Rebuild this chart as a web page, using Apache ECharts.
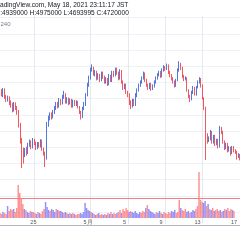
<!DOCTYPE html>
<html><head><meta charset="utf-8">
<script src="https://cdn.jsdelivr.net/npm/echarts@6/dist/echarts.min.js"></script>
<style>html,body{margin:0;padding:0;background:#fff;overflow:hidden}#c{width:240px;height:240px}</style>
</head><body><div id="c"></div>
<script>
// 4h candles, BTC/JPY (thousand JPY)
const opens = [6080,6045,6007,6070,5982,5945,5970, 5907,5882,5820,5895,5845, 5795,5632,5445, 5320,5257,5320,
 5295,5382,5420,5357,5445,5407,5345,5395,5370,5432, 5332,5282, 5220, 5645,5720,5757,5732,
 5795,5845,5895,5870,5945,5907, 5982,6007,5920, 5957,5907,5945,5870,5932,5895,5920, 5857,5795, 5745,5845,
 5895,6007,6132, 6220,6320,6345, 6270,6295,6220,6257,6195,6282,6232,6170,6207,6145,6245,
 6195,6295,6257,6332,6282,6220, 6307,6170,6095,6132,6045, 6007,5920,5870,5945,
 5895,6007,6070,6132,6170,6220, 6270,6195,6132,6095,6145,6082, 6120,6170,6220,6257,6295,6245,6320,6357,6332,
 6370,6295,6257,6220,6170,6132, 6195,6320,6395, 6345,6245,6207, 6220,6070,5995, 5957,6045,6095,6020,
 6107,6170,6207, 6132,5970, 5845,5507, 5445,5470,5545,5420, 5495,5395,5445, 5370,5595,
 5545,5420,5345,5395, 5320,5345,5282,5357, 5307,5295,5232,5257];
const closes = [6045,6007,6070,5982,5945,5970,5907, 5882,5820,5895,5845,5795, 5632,5445,5320, 5257,5320,5295,
 5382,5420,5357,5445,5407,5345,5395,5370,5432,5332, 5282,5220, 5645, 5720,5757,5732,5795,
 5845,5895,5870,5945,5907,5982, 6007,5920,5957, 5907,5945,5870,5932,5895,5920,5857, 5795,5745, 5845,5895,
 6007,6132,6220, 6320,6345,6270, 6295,6220,6257,6195,6282,6232,6170,6207,6145,6245,6195,
 6295,6257,6332,6282,6220,6307, 6170,6095,6132,6045,6007, 5920,5870,5945,5895,
 6007,6070,6132,6170,6220,6270, 6195,6132,6095,6145,6082,6120, 6170,6220,6257,6295,6245,6320,6357,6332,6370,
 6295,6257,6220,6170,6132,6195, 6320,6395,6345, 6245,6207,6220, 6070,5995,5957, 6045,6095,6020,6107,
 6170,6207,6132, 5970,5845, 5507,5445, 5470,5545,5420,5495, 5395,5445,5370, 5595,5545,
 5420,5345,5395,5320, 5345,5282,5357,5307, 5295,5232,5257,5220];
const highs = [6110,6080,6095,6090,6010,6000,5990, 5940,5910,5920,5915,5870, 5820,5660,5470, 5350,5345,5360,
 5410,5450,5440,5470,5460,5425,5420,5420,5455,5450, 5350,5300, 5670, 5750,5790,5790,5820,
 5870,5920,5920,5970,5960,6010, 6060,6030,5980, 5975,5965,5960,5950,5945,5940,5935, 5870,5810, 5860,5920,
 6030,6160,6250, 6350,6390,6360, 6320,6310,6280,6270,6300,6300,6250,6230,6220,6270,6260,
 6310,6310,6350,6350,6300,6330, 6320,6190,6150,6150,6060, 6030,5940,5960,5960,
 6030,6090,6150,6190,6240,6300, 6290,6210,6150,6160,6160,6140, 6190,6240,6280,6310,6310,6340,6380,6370,6400,
 6390,6310,6270,6230,6190,6210, 6340,6430,6410, 6360,6260,6240, 6230,6080,6010, 6060,6120,6110,6120,
 6190,6230,6220, 6140,5980, 5860,5530, 5490,5570,5560,5510, 5510,5460,5460, 5620,5610,
 5560,5440,5410,5410, 5370,5360,5370,5370, 5330,5310,5280,5270];
const lows = [6020,5990,5980,5960,5920,5925,5880, 5850,5790,5800,5820,5760, 5600,5400,5095, 5150,5230,5250,
 5270,5360,5330,5340,5380,5320,5330,5350,5350,5310, 5250,5107, 5200, 5610,5690,5700,5715,
 5770,5820,5840,5850,5880,5890, 5960,5900,5900, 5880,5890,5850,5850,5870,5870,5840, 5770,5700, 5720,5820,
 5870,5990,6110, 6200,6300,6250, 6240,6190,6200,6170,6180,6210,6150,6150,6120,6130,6170,
 6170,6230,6240,6260,6190,6200, 6150,6070,6080,6020,5980, 5880,5830,5850,5870,
 5870,5980,6050,6110,6150,6200, 6170,6110,6070,6080,6060,6070, 6100,6150,6200,6240,6220,6230,6300,6310,6320,
 6270,6230,6190,6150,6100,6110, 6180,6300,6320, 6220,6180,6190, 6050,5970,5920, 5940,6020,6000,6000,
 6090,6150,6100, 5950,5820, 5195,5400, 5420,5440,5400,5400, 5370,5380,5340, 5350,5520,
 5400,5320,5330,5290, 5300,5250,5270,5290, 5270,5200,5220,5190];
const volumes = [850,680,1020,850,680,2040,1190, 1530,1360,1530,1020,1700, 5610,4250,3400,2380,1530,1360,
 1020,850,1190,1020,1020,850,680,1020,850,680, 1190,1530, 2720,1870, 1360,1190,1530,1360,1020,
 1530,1360,1190, 1190,1020,850,1020, 850,680,850,680,850,680,510,680, 680,850,680,1020, 2550,1700,
 1360,1190,1020,850, 680,510,680,850,510,680,510,680,510, 850,680,1020,680,850,680,850,
 1020,1360,850,1530,1190,1700,1360,1020,1190, 1020,850,1190,850,680,1020,850,1190,1020,
 1700,2210,1530,1190,1020, 850,680,1020,850,1190,850,680,1020,850,680, 1020,850,1190,1020,1360,850,1020,
 3060,1700, 1360,1190,1530,1020,1190,850,1020,1360,1190,1530, 2040,7820,
 3060,2720,2550,2890,2040,2380, 1530,1360,1700,1190,1360,1530,1190,1360,
 1020,1190,1530,1360,1700,1190,1530,1360,1190];
const lastClose = 4720;
const tickTimes = ['04-25 00:00','05-01 00:00','05-05 00:00','05-09 00:00','05-13 00:00','05-17 00:00'];
const tickLabels = ['25','5月','5','9','13','17'];
const headerLine1 = 'TradingView.com, May 18, 2021 23:11:17 JST';
const headerLine2 = 'O:4939000 H:4975000 L:4693995 C:4720000';
const intervalText = '240';

const N = closes.length;
const times = [];
const start = Date.UTC(2021,3,21,8,0);
const p2 = v => (v<10?'0':'')+v;
for (let i=0;i<N;i++){ const d=new Date(start+i*4*3600e3);
  times.push(p2(d.getUTCMonth()+1)+'-'+p2(d.getUTCDate())+' '+p2(d.getUTCHours())+':00'); }
const tickIdx = {}; tickTimes.forEach((t,k)=>{ const i=times.indexOf(t); if(i>=0) tickIdx[i]=tickLabels[k]; });

const UP='#3f6ad8', DOWN='#f4444f';
const candle = opens.map((o,i)=>[o,closes[i],lows[i],highs[i]]);
const vol = volumes.map((v,i)=>({value:v,itemStyle:{color: closes[i]>=opens[i] ? 'rgba(120,120,250,0.8)' : 'rgba(255,120,120,0.8)'}}));

const chart = echarts.init(document.getElementById('c'), null, {renderer:'canvas'});
const gl = -0.5, gr = -0.8;
chart.setOption({
  animation:false,
  backgroundColor:'#ffffff',
  grid:[{left:gl,right:gr,top:15.6,bottom:16.4},{left:gl,right:gr,top:158,bottom:22},
        {left:0,right:0,top:17.6,bottom:28}],
  xAxis:[
    {type:'category',gridIndex:0,data:times,boundaryGap:false,axisLine:{show:false},axisTick:{show:false},axisLabel:{show:false},
     splitLine:{show:true,interval:(i)=>tickIdx[i]!==undefined,lineStyle:{color:'#e4e9f1',width:1}}},
    {type:'category',gridIndex:1,data:times,boundaryGap:false,axisLine:{show:false},axisTick:{show:false},splitLine:{show:false},
     axisLabel:{show:true,interval:(i)=>tickIdx[i]!==undefined,formatter:(v,i)=>tickIdx[i]||'',fontSize:5.5,color:'#555',margin:1,fontFamily:'Liberation Sans'}},
    {type:'value',gridIndex:2,show:false,splitLine:{show:false}}
  ],
  yAxis:[
    {type:'value',gridIndex:0,min:4400,max:7000,position:'right',axisLine:{show:false},axisTick:{show:false},axisLabel:{show:false},splitLine:{show:false}},
    {type:'value',gridIndex:1,min:0,max:10200,show:false,splitLine:{show:false}},
    {type:'value',gridIndex:2,min:0,max:12,interval:1,axisLine:{show:false},axisTick:{show:false},axisLabel:{show:false},
     splitLine:{show:true,lineStyle:{color:'#eef1f5',width:1}}}
  ],
  series:[
    {type:'bar',xAxisIndex:1,yAxisIndex:1,data:vol,barWidth:1.5,silent:true},
    {type:'candlestick',xAxisIndex:0,yAxisIndex:0,data:candle,barWidth:1.3,
     itemStyle:{color:UP,color0:DOWN,borderColor:UP,borderColor0:DOWN,borderWidth:0.9},
     markLine:{silent:true,symbol:'none',label:{show:false},lineStyle:{color:'#f77c80',width:1,type:'solid'},data:[{yAxis:lastClose}]}}
  ],
  graphic:[
    {type:'line',shape:{x1:0,y1:17.5,x2:240,y2:17.5},style:{stroke:'#e0e3eb',lineWidth:1}},
    {type:'line',shape:{x1:0,y1:225.5,x2:240,y2:225.5},style:{stroke:'#b2b5be',lineWidth:1}},
    {type:'text',left:-6,top:1.5,style:{text:headerLine1,fontSize:6.6,fill:'#131722',fontFamily:'Liberation Sans'}},
    {type:'text',left:-5,top:9.5,style:{text:headerLine2,fontSize:6.6,fill:'#131722',fontFamily:'Liberation Sans'}},
    {type:'text',left:0.5,top:21,style:{text:intervalText,fontSize:6,fill:'#787b86',fontFamily:'Liberation Sans'}}
  ]
});
</script></body></html>
